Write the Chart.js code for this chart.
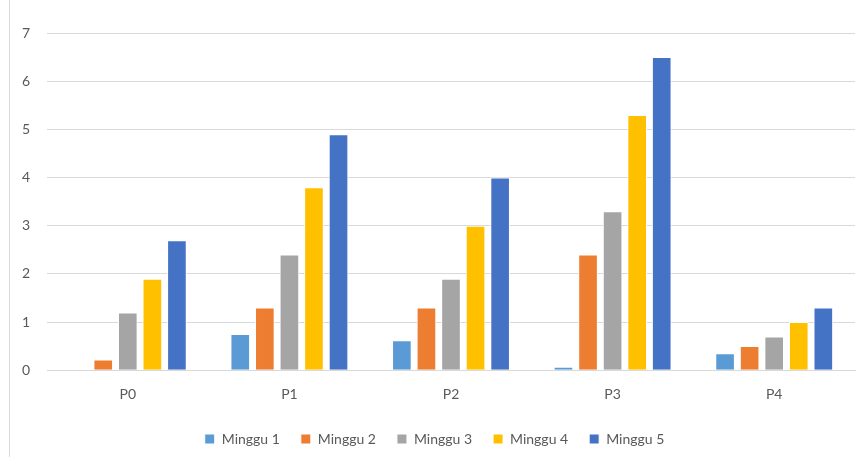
<!DOCTYPE html>
<html>
<head>
<meta charset="utf-8">
<script src="https://cdn.jsdelivr.net/npm/chart.js@4/dist/chart.umd.min.js"></script>
<style>
    html, body { margin: 0; padding: 0; background: #fff; }
    #wrap { position: relative; width: 862px; height: 457px; }
    #edge { position: absolute; left: 9px; top: 0; width: 1px; height: 457px; background: #d9d9d9; }
    #chart { position: absolute; left: 0; top: 0; }
</style>
</head>
<body>
<div id="wrap">
    <div id="edge"></div>
    <canvas id="chart" width="862" height="457"></canvas>
</div>
<script>
const categories = ['P0', 'P1', 'P2', 'P3', 'P4'];
const seriesNames = ['Minggu 1', 'Minggu 2', 'Minggu 3', 'Minggu 4', 'Minggu 5'];
const minggu1 = [0, 0.75, 0.62, 0.07, 0.35];
const minggu2 = [0.22, 1.3, 1.3, 2.4, 0.5];
const minggu3 = [1.2, 2.4, 1.9, 3.3, 0.7];
const minggu4 = [1.9, 3.8, 3.0, 5.3, 1.0];
const minggu5 = [2.7, 4.9, 4.0, 6.5, 1.3];
const yTicks = [0, 1, 2, 3, 4, 5, 6, 7];

const colors = ['#5B9BD5', '#ED7D31', '#A5A5A5', '#FFC000', '#4472C4'];
const allSeries = [minggu1, minggu2, minggu3, minggu4, minggu5];

document.addEventListener('DOMContentLoaded', () => {
    drawChart();
});

function drawChart() {
    const ctx = document.getElementById('chart').getContext('2d');
    const font = { family: 'Lato, "Liberation Sans", sans-serif', size: 14 };

    new Chart(ctx, {
        type: 'bar',
        data: {
            labels: categories,
            datasets: allSeries.map((values, i) => ({
                label: seriesNames[i],
                data: values,
                backgroundColor: colors[i],
                borderColor: '#ffffff',
                borderWidth: 1,
                categoryPercentage: 0.76,
                barPercentage: 0.8
            }))
        },
        options: {
            responsive: false,
            animation: false,
            layout: { padding: { left: 14, right: 7, top: 33, bottom: 1 } },
            plugins: {
                tooltip: { enabled: false },
                legend: {
                    position: 'bottom',
                    labels: {
                        boxWidth: 10,
                        boxHeight: 10,
                        padding: 21,
                        color: '#595959',
                        font: font
                    }
                }
            },
            scales: {
                x: {
                    grid: { display: false },
                    border: { color: '#d9d9d9' },
                    ticks: { color: '#595959', font: font, padding: 8 }
                },
                y: {
                    min: 0,
                    max: 7,
                    afterBuildTicks: axis => {
                        axis.ticks = yTicks.map(v => ({ value: v }));
                    },
                    afterFit: axis => { axis.width = 33; },
                    grid: { color: '#d9d9d9', drawTicks: false },
                    border: { display: false },
                    ticks: { color: '#595959', font: font, padding: 17 }
                }
            }
        }
    });
}
</script>
</body>
</html>
